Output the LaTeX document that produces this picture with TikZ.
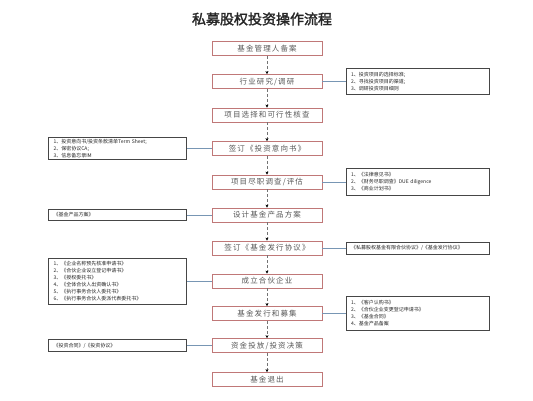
\documentclass[tikz,border=0pt]{standalone}
\usepackage{fontspec}
\setmainfont{Noto Sans CJK SC}
\newfontfamily\titlefont{Noto Sans CJK SC}[FakeBold=2]
\newfontfamily\boxfont{Noto Sans CJK SC}[LetterSpace=15]
\usetikzlibrary{arrows.meta}
\definecolor{boxred}{RGB}{192,120,120}
\definecolor{linkblue}{RGB}{120,150,180}
\definecolor{sidegray}{RGB}{70,70,70}
\begin{document}
\begin{tikzpicture}[x=1pt,y=-1pt,
  mainbox/.style={draw=boxred, line width=0.8pt, minimum width=110pt, minimum height=14pt, inner sep=0pt, font=\boxfont\fontsize{7.5}{9}\selectfont, text=black!65, fill=white},
  sidebox/.style={draw=sidegray, line width=0.9pt, inner ysep=0pt, inner xsep=5pt, font=\fontsize{5}{7}\selectfont, text=black!85, align=left},
  rbox/.style={sidebox, text width=133pt},
  lbox/.style={sidebox, text width=128pt},
  flow/.style={densely dashed, draw=black!55, line width=0.5pt, -{Stealth[length=3pt,width=3pt,black]}},
  link/.style={draw=linkblue, line width=0.6pt}]
\useasboundingbox (0,0) rectangle (533,400);
\node[font=\titlefont\fontsize{14}{16}\selectfont, text=black!85] (title) at (262,19) {私募股权投资操作流程};
% main column
\node[mainbox] (m1) at (267,48.5) {基金管理人备案};
\node[mainbox] (m2) at (267,81.5) {行业研究/调研};
\node[mainbox] (m3) at (267,115) {项目选择和可行性核查};
\node[mainbox] (m4) at (267,148.5) {签订《投资意向书》};
\node[mainbox] (m5) at (267,182) {项目尽职调查/评估};
\node[mainbox] (m6) at (267,215) {设计基金产品方案};
\node[mainbox] (m7) at (267,248) {签订《基金发行协议》};
\node[mainbox] (m8) at (267,281) {成立合伙企业};
\node[mainbox] (m9) at (267,313.5) {基金发行和募集};
\node[mainbox] (m10) at (267,345.5) {资金投放/投资决策};
\node[mainbox] (m11) at (267,379.5) {基金退出};
\foreach \a/\b in {m1/m2,m2/m3,m3/m4,m4/m5,m5/m6,m6/m7,m7/m8,m8/m9,m9/m10,m10/m11}
  \draw[flow] (\a) -- (\b);
% side boxes
\node[rbox, minimum height=26pt] (r1) at (417.5,81.5) {1、投资项目的选择标准;\\2、寻找投资项目的渠道;\\3、调研投资项目细则};
\node[lbox, minimum height=22pt] (l1) at (117.5,148.5) {1、投资意向书/投资条款清单Term Sheet;\\2、保密协议CA;\\3、信息备忘录IM};
\node[rbox, minimum height=27pt] (r2) at (417.5,182) {1、《法律意见书》\\2、《财务尽职调查》DUE diligence\\3、《商业计划书》};
\node[lbox, minimum height=11.5pt] (l2) at (117.5,215) {《基金产品方案》};
\node[rbox, minimum height=12pt] (r3) at (417.5,248) {《私募股权基金有限合伙协议》/《基金发行协议》};
\node[lbox, minimum height=46pt] (l3) at (117.5,281) {1、《企业名称预先核准申请书》\\2、《合伙企业设立登记申请书》\\3、《授权委托书》\\4、《全体合伙人出资确认书》\\5、《执行事务合伙人委托书》\\6、《执行事务合伙人委派代表委托书》};
\node[rbox, minimum height=34pt] (r4) at (417.5,313.5) {1、《客户认购书》\\2、《合伙企业变更登记申请书》\\3、《基金合同》\\4、基金产品备案};
\node[lbox, minimum height=12pt] (l4) at (117.5,345.5) {《投资合同》/《投资协议》};
% links
\draw[link] (m2.east) -- (r1.west);
\draw[link] (l1.east) -- (m4.west);
\draw[link] (m5.east) -- (r2.west);
\draw[link] (l2.east) -- (m6.west);
\draw[link] (m7.east) -- (r3.west);
\draw[link] (l3.east) -- (m8.west);
\draw[link] (m9.east) -- (r4.west);
\draw[link] (l4.east) -- (m10.west);
\end{tikzpicture}
\end{document}
